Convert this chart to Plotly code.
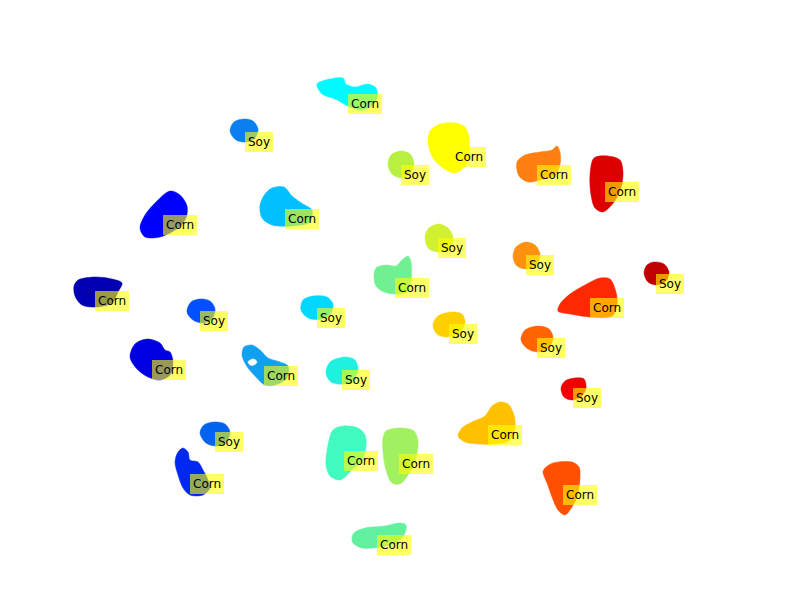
import plotly.graph_objects as go

# ---- data (pixel space, 800x600, y downward) ----
labels = ["Corn", "Soy", "Soy", "Corn", "Corn", "Corn", "Corn", "Corn", "Soy", "Soy",
          "Soy", "Corn", "Corn", "Corn", "Soy", "Soy", "Soy", "Soy", "Corn", "Corn",
          "Soy", "Soy", "Corn", "Soy", "Corn", "Corn", "Corn", "Corn", "Corn"]

colors = ["#00FAFF", "#0A80F0", "#B8F040", "#FFFF00", "#FF8010", "#DC0000", "#0000FF",
          "#00C0FF", "#D0F030", "#FF9010", "#C00000", "#70F090", "#FF2800", "#0000B0",
          "#0050FF", "#00D8FF", "#FFD000", "#FF6400", "#0000E0", "#10A0F0", "#20F0E0",
          "#F00000", "#FFC000", "#0064F0", "#0028F0", "#40FAC0", "#A0F060", "#FF5000",
          "#60F0A0"]

label_x = [348, 245, 401, 452, 537, 605, 163, 285, 438, 526, 656, 395, 590, 95, 200,
           317, 449, 537, 152, 264, 342, 573, 488, 215, 190, 344, 399, 563, 377]
label_y = [94, 132, 165, 147, 165, 182, 215, 209, 238, 255, 274, 278, 298, 291, 311,
           308, 324, 338, 360, 366, 370, 388, 425, 432, 474, 451, 454, 485, 535]

outlines_x = [
    [317, 330, 343, 346, 355, 368, 376, 377, 372, 360, 348, 335, 322],
    [244, 253, 258, 255, 246, 236, 230, 234],
    [401, 410, 414, 411, 402, 392, 388, 391],
    [440, 455, 465, 469, 469, 466, 455, 443, 433, 428, 430],
    [517, 525, 540, 552, 557, 560, 560, 555, 540, 528, 519],
    [594, 608, 620, 623, 621, 614, 603, 595, 591, 590],
    [170, 180, 187, 186, 178, 160, 145, 140, 145, 158],
    [272, 284, 292, 303, 312, 310, 292, 272, 262, 260, 265],
    [438, 448, 453, 450, 440, 429, 425, 428],
    [526, 535, 540, 537, 527, 517, 513, 516],
    [654, 664, 669, 666, 657, 648, 644, 647],
    [376, 386, 396, 402, 408, 411, 411, 407, 395, 384, 376, 374],
    [560, 570, 585, 600, 610, 616, 617, 612, 590, 570, 558],
    [78, 95, 112, 122, 118, 112, 97, 82, 75, 74],
    [200, 210, 215, 212, 203, 193, 187, 191],
    [313, 327, 333, 331, 322, 308, 301, 303],
    [451, 462, 465, 460, 447, 437, 433, 438],
    [538, 549, 553, 550, 540, 528, 521, 525],
    [135, 147, 160, 165, 170, 173, 170, 160, 148, 137, 130],
    [244, 252, 260, 268, 280, 288, 287, 275, 265, 255, 246, 242],
    [345, 355, 358, 354, 343, 331, 326, 330],
    [575, 584, 586, 582, 572, 564, 561, 565],
    [458, 462, 472, 485, 492, 500, 508, 514, 515, 510, 495, 478, 465],
    [214, 225, 230, 227, 217, 206, 200, 204],
    [178, 183, 188, 190, 198, 203, 208, 210, 203, 190, 183, 178, 175],
    [333, 343, 358, 365, 366, 362, 352, 340, 330, 326, 328],
    [386, 400, 414, 418, 416, 410, 400, 392, 386, 383, 383],
    [545, 553, 572, 579, 580, 577, 572, 565, 558, 552, 547, 543],
    [355, 365, 385, 400, 406, 404, 395, 380, 362, 353, 352],
]
outlines_y = [
    [84, 79, 78, 84, 87, 84, 88, 97, 106, 110, 106, 99, 94],
    [119, 121, 129, 138, 142, 140, 131, 122],
    [151, 154, 163, 173, 178, 174, 164, 155],
    [124, 123, 127, 137, 152, 165, 173, 168, 158, 143, 131],
    [162, 155, 152, 150, 146, 152, 165, 175, 180, 182, 176],
    [158, 156, 160, 172, 188, 202, 212, 208, 195, 175],
    [191, 195, 206, 218, 228, 237, 237, 228, 215, 200],
    [188, 187, 196, 204, 210, 222, 226, 225, 218, 205, 194],
    [224, 228, 237, 248, 252, 249, 238, 229],
    [242, 245, 254, 264, 269, 266, 257, 247],
    [262, 264, 272, 281, 285, 282, 273, 265],
    [268, 265, 266, 260, 256, 262, 280, 292, 294, 292, 286, 277],
    [304, 294, 285, 278, 279, 292, 305, 316, 317, 314, 311],
    [280, 277, 279, 283, 292, 303, 307, 305, 296, 286],
    [299, 301, 309, 319, 323, 320, 312, 302],
    [296, 297, 304, 313, 319, 318, 310, 300],
    [312, 314, 322, 332, 337, 334, 325, 316],
    [326, 329, 337, 346, 352, 349, 340, 330],
    [344, 339, 343, 350, 352, 362, 375, 380, 377, 369, 357],
    [347, 345, 350, 358, 362, 366, 378, 385, 385, 376, 365, 355],
    [357, 360, 369, 379, 384, 382, 373, 362],
    [378, 379, 388, 396, 400, 397, 388, 381],
    [436, 428, 422, 416, 406, 402, 404, 415, 428, 440, 444, 444, 442],
    [422, 424, 432, 441, 446, 443, 433, 425],
    [452, 448, 452, 460, 462, 470, 480, 488, 495, 495, 488, 475, 462],
    [430, 426, 428, 435, 447, 460, 470, 480, 476, 465, 445],
    [431, 428, 431, 441, 458, 472, 484, 483, 470, 452, 438],
    [468, 463, 462, 467, 478, 497, 507, 515, 510, 497, 483, 472],
    [532, 528, 526, 523, 525, 535, 543, 547, 548, 543, 537],
]

# small white hole inside one blob
hole_x = [250, 254, 257, 254, 250, 248]
hole_y = [360, 359, 362, 365, 365, 362]

fig = go.Figure()
for xs, ys, c in zip(outlines_x, outlines_y, colors):
    fig.add_trace(go.Scatter(
        x=xs + xs[:1], y=ys + ys[:1], mode="lines", fill="toself",
        fillcolor=c, line=dict(color=c, width=0.5, shape="spline", smoothing=0.9),
        hoverinfo="skip", showlegend=False))

fig.add_trace(go.Scatter(
    x=hole_x + hole_x[:1], y=hole_y + hole_y[:1], mode="lines", fill="toself",
    fillcolor="white", line=dict(color="white", width=0.5, shape="spline"),
    hoverinfo="skip", showlegend=False))

for t, lx, ly in zip(labels, label_x, label_y):
    fig.add_annotation(
        x=lx, y=ly, text=t, showarrow=False, xanchor="left", yanchor="top",
        bgcolor="rgba(255,255,0,0.6)", borderpad=3, borderwidth=0,
        font=dict(family="DejaVu Sans", size=12, color="black"))

# the page shows the figure offset by 8px, so shift the axis window to compensate
fig.update_xaxes(range=[8, 808], visible=False, fixedrange=True)
fig.update_yaxes(range=[608, 8], visible=False, fixedrange=True)
fig.update_layout(width=800, height=600, margin=dict(l=0, r=0, t=0, b=0),
                  paper_bgcolor="white", plot_bgcolor="white")

fig.write_html("out.html")
